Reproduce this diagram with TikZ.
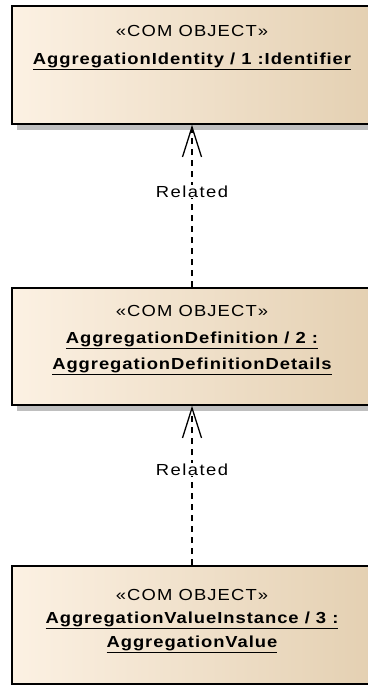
\documentclass[tikz,border=0pt]{standalone}
\usepackage{fontspec}
\setmainfont{Liberation Sans}
\newfontfamily\stereofont[FakeStretch=1.15,LetterSpace=7]{Liberation Sans}
\newfontfamily\namefont[FakeStretch=1.15,LetterSpace=6]{Liberation Sans}
\newfontfamily\relfont[FakeStretch=1.15,LetterSpace=9]{Liberation Sans}
\usetikzlibrary{positioning,shadows,arrows.meta}
\definecolor{objleft}{HTML}{FCF1E3}
\definecolor{objright}{HTML}{E4D0B2}
\newcommand{\objname}[1]{\vtop{\hbox{\namefont\bfseries #1}\kern1pt\hrule height 1.2pt}}
\tikzset{
  comobject/.style={draw, line width=1.6pt, left color=objleft, right color=objright,
    minimum width=360pt, drop shadow={shadow xshift=5pt, shadow yshift=-6pt, fill=black!25, opacity=1}},
  objtext/.style={align=center, inner sep=0pt, font=\stereofont\fontsize{16}{26}\selectfont},
  related/.style={draw, line width=1.3pt, dash pattern=on 6pt off 5pt,
    -{Straight Barb[length=30pt,width=19pt]}},
  rellabel/.style={fill=white, inner sep=1pt, font=\relfont\fontsize{16}{18}\selectfont}
}
\begin{document}
\begin{tikzpicture}[x=1pt,y=-1pt]
\useasboundingbox (0,0) rectangle (367,685);
\node[comobject, minimum height=118pt] (identity) at (192,65) {};
\node[comobject, minimum height=117pt] (definition) at (192,346.5) {};
\node[comobject, minimum height=118pt] (value) at (192,625) {};
\node[objtext, below=20pt of identity.north] (identitytext) {«COM OBJECT»\\[2pt]\objname{AggregationIdentity / 1 :Identifier}};
\node[objtext, below=18pt of definition.north] (definitiontext) {«COM OBJECT»\\[1pt]\objname{AggregationDefinition / 2 :}\\\objname{AggregationDefinitionDetails}};
\node[objtext, below=24pt of value.north] (valuetext) {«COM OBJECT»\\[-3pt]\objname{AggregationValueInstance / 3 :}\\[-2pt]\objname{AggregationValue}};
\path[related] (definition.north) -- node[rellabel, pos=0.59] {Related} (identity.south);
\path[related] (value.north) -- node[rellabel, pos=0.6] {Related} (definition.south);
\end{tikzpicture}
\end{document}
